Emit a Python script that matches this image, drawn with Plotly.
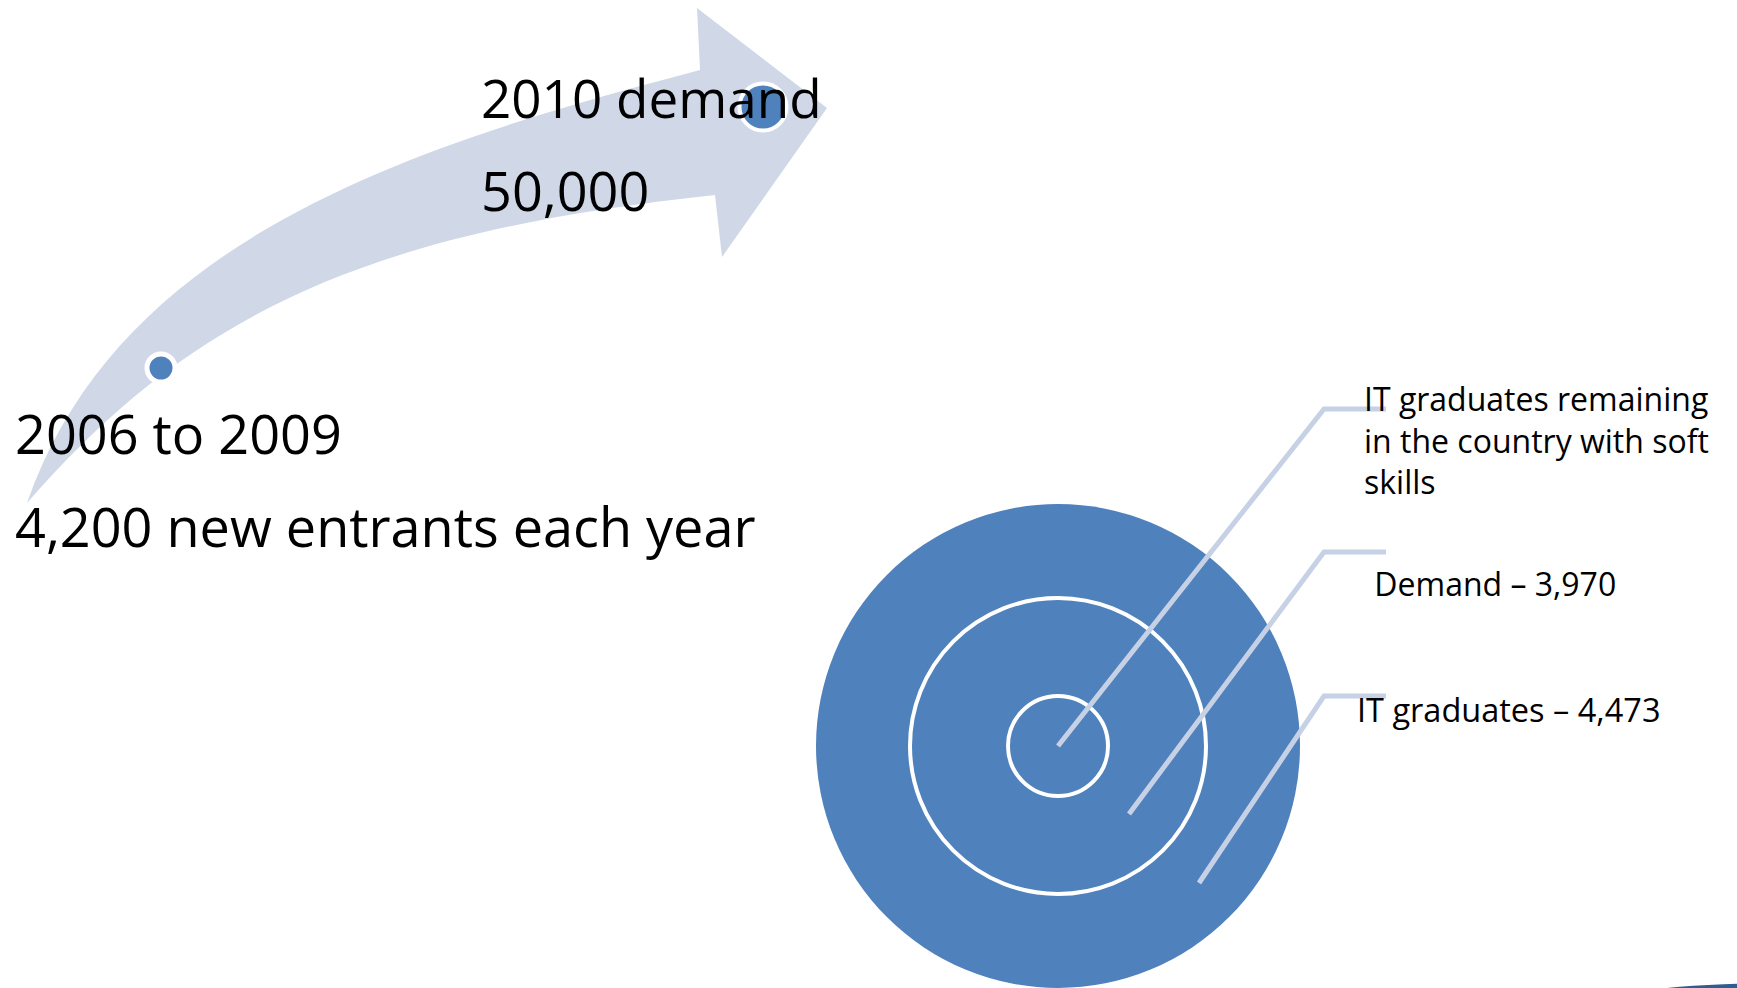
import plotly.graph_objects as go

W, H = 1737, 988
FONT = "Open Sans, Lato, DejaVu Sans, sans-serif"

# --- text content ---------------------------------------------------------
timeline_labels = ["2006 to 2009", "2010 demand"]
timeline_values = ["4,200 new entrants each year", "50,000"]
ring_labels = [
    "IT graduates remaining<br>in the country with soft<br>skills",
    " Demand \u2013 3,970",
    "IT graduates \u2013 4,473",
]
ring_radii = [50, 148, 242]          # inner -> outer ring sizes (diagram units)

# --- colours --------------------------------------------------------------
ARROW = "#d0d8e8"
BLUE = "#4f81bd"
CALLOUT = "#c6d1e5"

# --- arrow geometry (pixel-space axes) -----------------------------------
# outer edge: tail -> shaft end (cubic bezier), head, inner edge back to tail
path = (
    "M27,503 C119,239 410,146 700,70 "
    "L697,8 L827,108 L722,257 L715,195 "
    "C367,232 191,314 27,503 Z"
)

shapes = []
shapes.append(dict(type="path", path=path, fillcolor=ARROW, line=dict(width=0),
                   xref="x", yref="y", layer="below"))

# concentric rings
cx, cy = 1058, 746
for i, r in enumerate(reversed(ring_radii)):
    outer = i == 0
    shapes.append(dict(type="circle", xref="x", yref="y",
                       x0=cx - r, x1=cx + r, y0=cy - r, y1=cy + r,
                       fillcolor=BLUE,
                       line=dict(width=0 if outer else 4, color="white"),
                       layer="below"))

# callout lines
callouts = [((1058, 746), 409), ((1129, 814), 552), ((1199, 883), 696)]
for (sx, sy), ly in callouts:
    shapes.append(dict(type="path", xref="x", yref="y",
                       path=f"M{sx},{sy} L1324,{ly} L1386,{ly}",
                       line=dict(color=CALLOUT, width=5), layer="above"))

# partial logo peeking in at the bottom-right corner
shapes.append(dict(type="circle", xref="x", yref="y", x0=1616, x1=1964, y0=983, y1=1017,
                   fillcolor="#2f5d92", line=dict(width=0), layer="below"))

fig = go.Figure()

# timeline dots
fig.add_trace(go.Scatter(x=[161], y=[368], mode="markers", hoverinfo="skip",
                         marker=dict(size=28, color=BLUE, line=dict(color="white", width=5))))
fig.add_trace(go.Scatter(x=[763], y=[107], mode="markers", hoverinfo="skip",
                         marker=dict(size=47, color=BLUE, line=dict(color="white", width=4))))

annotations = []
# left side labels
annotations.append(dict(x=13, y=433, text=timeline_labels[0], font=dict(size=54)))
annotations.append(dict(x=13, y=526, text=timeline_values[0], font=dict(size=54)))
annotations.append(dict(x=479, y=97, text=timeline_labels[1], font=dict(size=53)))
annotations.append(dict(x=479, y=190, text=timeline_values[1], font=dict(size=54)))
# ring labels
annotations.append(dict(x=1362, y=440, text=ring_labels[0], font=dict(size=32)))
annotations.append(dict(x=1364, y=583, text=ring_labels[1], font=dict(size=32)))
annotations.append(dict(x=1355, y=709, text=ring_labels[2], font=dict(size=32.5)))

for a in annotations:
    a.update(xref="x", yref="y", xanchor="left", yanchor="middle", showarrow=False,
             align="left")
    a["font"].update(family=FONT, color="black")

fig.update_layout(
    width=W, height=H,
    margin=dict(l=0, r=0, t=0, b=0),
    paper_bgcolor="white", plot_bgcolor="white",
    showlegend=False,
    xaxis=dict(range=[0, W], visible=False, fixedrange=True),
    yaxis=dict(range=[H, 0], visible=False, fixedrange=True),
    shapes=shapes,
    annotations=annotations,
)

fig.write_html("out.html")
